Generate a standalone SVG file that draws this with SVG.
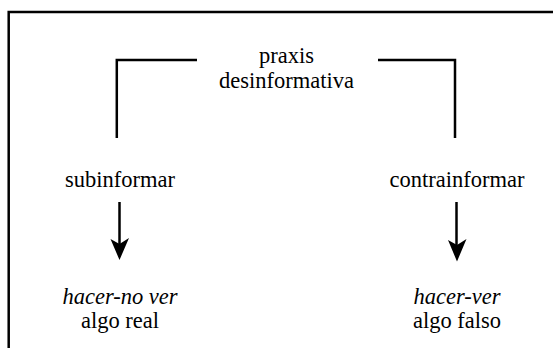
<svg xmlns="http://www.w3.org/2000/svg" width="553" height="348" viewBox="0 0 553 348">
<defs>
<style>
.t{font-family:"Liberation Serif","Times New Roman",serif;font-size:22.5px;fill:#000;text-anchor:middle}
.i{font-style:italic}
.ln{fill:none;stroke:#000;stroke-width:2.5}
.ah{fill:#000;stroke:none}
</style>
</defs>
<rect width="553" height="348" fill="#fff"/>
<path class="ln" d="M8.7,348 V12 H553"/>
<g id="praxis"><text class="t" x="286.5" y="63">praxis</text><text class="t" x="286.5" y="87.5">desinformativa</text></g>
<g id="subinformar"><text class="t" x="120" y="187">subinformar</text></g>
<g id="contrainformar"><text class="t" x="457" y="187">contrainformar</text></g>
<g id="hacer-no-ver"><text class="t i" x="120" y="304">hacer-no ver</text><text class="t" x="120" y="328">algo real</text></g>
<g id="hacer-ver"><text class="t i" x="457" y="304">hacer-ver</text><text class="t" x="457" y="328">algo falso</text></g>
<g id="connectors">
<path class="ln" d="M197,60 H116.8 V138"/>
<path class="ln" d="M378,60 H455 V138"/>
<path class="ln" d="M119.5,202 V244"/>
<polygon class="ah" points="110.5,239 119.5,244 129,238 119.5,260"/>
<path class="ln" d="M456.5,202 V245"/>
<polygon class="ah" points="448,240 457,245 466.5,239 457,261.5"/>
</g>
</svg>
